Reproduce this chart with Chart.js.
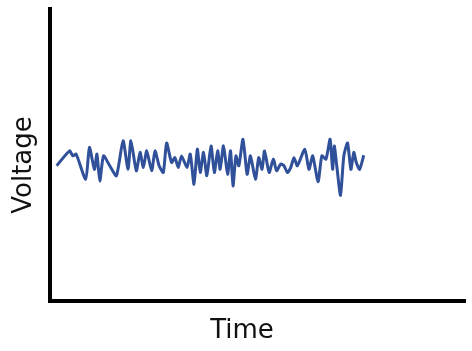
<!DOCTYPE html>
<html lang="en">
<head>
  <meta charset="UTF-8">
  <title>Voltage vs Time</title>
  <script src="https://cdn.jsdelivr.net/npm/chart.js"></script>
  <style>
    body {
      margin: 0;
      background: #fff;
    }
    .chart-box {
      width: 472px;
      height: 351px;
    }
  </style>
</head>
<body>
  <div class="chart-box">
    <canvas id="noiseChart"></canvas>
  </div>

  <script>
    // time (0-100 across the axis) and voltage (0-10 up the axis)
    const timeValues = [
      1.6, 4.7, 5.5, 6.3, 8.6, 9.5, 10.7, 11.3, 12.0, 12.9,
      14.4, 16.0, 17.6, 18.8, 19.5, 20.8, 21.7, 22.5, 23.3, 24.5,
      25.3, 26.3, 27.3, 28.1, 29.3, 30.1, 30.9, 31.7, 33.0, 33.8,
      34.7, 35.5, 36.2, 37.0, 37.8, 38.8, 39.6, 40.4, 41.0, 41.8,
      42.8, 43.5, 44.1, 44.8, 45.5, 46.5, 47.5, 48.3, 49.5, 50.3,
      51.1, 51.7, 52.8, 53.8, 54.6, 55.6, 56.4, 57.2, 58.0, 58.8,
      59.6, 61.4, 62.4, 63.3, 64.6, 65.5, 66.5, 67.5, 68.1, 68.5,
      69.1, 70.0, 70.8, 71.7, 72.5, 73.2, 73.8, 74.6, 75.6
    ];
    const voltageValues = [
      4.63, 5.14, 4.97, 5.03, 4.17, 5.26, 4.51, 5.03, 4.11, 4.97,
      4.63, 4.29, 5.49, 4.51, 5.49, 4.46, 5.09, 4.57, 5.14, 4.46,
      5.14, 4.63, 4.40, 5.41, 4.74, 4.91, 4.57, 4.97, 4.57, 5.03,
      4.00, 5.20, 4.40, 5.09, 4.29, 5.31, 4.40, 5.14, 4.51, 5.31,
      4.34, 5.14, 3.94, 4.97, 4.63, 5.54, 4.34, 4.97, 4.17, 4.91,
      4.51, 5.14, 4.40, 4.86, 4.46, 4.69, 4.63, 4.40, 4.57, 4.91,
      4.63, 5.20, 4.51, 4.97, 4.08, 4.97, 4.86, 5.54, 4.51, 5.31,
      4.63, 3.62, 4.97, 5.41, 4.51, 5.09, 4.74, 4.51, 4.99
    ];
    const xTitle = 'Time';
    const yTitle = 'Voltage';

    const points = timeValues.map((t, i) => ({ x: t, y: voltageValues[i] }));

    // axis titles sit a bit off-centre in the original, so draw them here
    const axisTitles = {
      id: 'axisTitles',
      afterDraw(chart) {
        const { ctx, chartArea } = chart;
        ctx.save();
        ctx.fillStyle = '#111';
        ctx.font = '26px "DejaVu Sans"';
        ctx.textAlign = 'center';
        ctx.textBaseline = 'alphabetic';
        ctx.fillText(xTitle, chartArea.left + 192, 338);

        ctx.translate(31, chartArea.top + 156);
        ctx.rotate(-Math.PI / 2);
        ctx.fillText(yTitle, 0, 0);
        ctx.restore();
      }
    };

    new Chart(document.getElementById('noiseChart'), {
      type: 'line',
      data: {
        datasets: [{
          data: points,
          borderColor: '#30519a',
          borderWidth: 3,
          pointRadius: 0,
          tension: 0.2,
          fill: false
        }]
      },
      options: {
        responsive: true,
        maintainAspectRatio: false,
        animation: false,
        layout: {
          padding: { top: 9, right: 7, left: 0, bottom: 0 }
        },
        plugins: {
          legend: { display: false },
          tooltip: { enabled: false }
        },
        scales: {
          x: {
            type: 'linear',
            min: 0,
            max: 100,
            ticks: { display: false },
            grid: { display: false, drawTicks: false },
            border: { display: true, color: '#000', width: 4 },
            afterFit: s => { s.height = 50; }
          },
          y: {
            min: 0,
            max: 10,
            ticks: { display: false },
            grid: { display: false, drawTicks: false },
            border: { display: true, color: '#000', width: 4 },
            afterFit: s => { s.width = 50; }
          }
        }
      },
      plugins: [axisTitles]
    });
  </script>
</body>
</html>
